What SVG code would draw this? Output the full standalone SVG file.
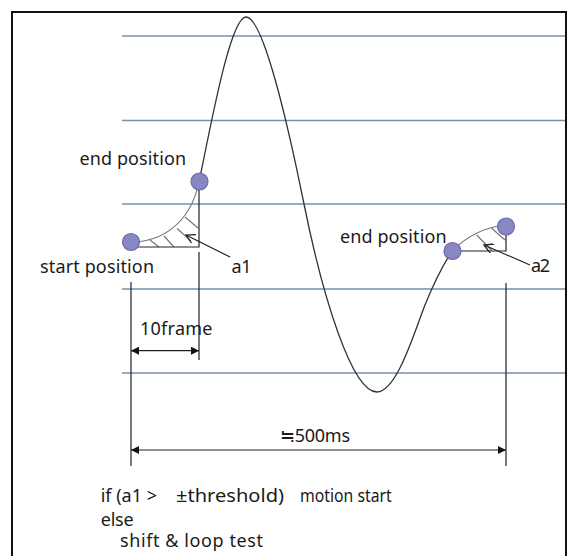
<svg xmlns="http://www.w3.org/2000/svg" width="568" height="556" viewBox="0 0 568 556">
<style>
.grid{stroke:#7590ad;stroke-width:1.3}
.wave{fill:none;stroke:#333;stroke-width:1.3}
.thin{fill:none;stroke:#777;stroke-width:1.2}
.line{fill:none;stroke:#222;stroke-width:1.2}
.pt{fill:#8787c3;stroke:#6c6cab;stroke-width:1.2}
text{font-family:"Noto Sans","Liberation Sans",sans-serif;font-size:18px;fill:#1a1a1a}
</style>
<defs>
<marker id="fa" viewBox="0 0 10 10" refX="10" refY="5" markerWidth="10" markerHeight="8" markerUnits="userSpaceOnUse" orient="auto-start-reverse"><path d="M0,0 L10,5 L0,10 Z" fill="#111"/></marker>
<marker id="oa" viewBox="0 0 10 10" refX="9" refY="5" markerWidth="12" markerHeight="10" markerUnits="userSpaceOnUse" orient="auto"><path d="M0,0 L9,5 L0,10" fill="none" stroke="#222" stroke-width="1.3"/></marker>
</defs>
<rect width="568" height="556" fill="#fff"/>
<path d="M12,560 V12 H566 V560" fill="none" stroke="#111" stroke-width="2"/>
<g id="grid">
<line class="grid" x1="122" y1="36" x2="565" y2="36"/>
<line class="grid" x1="122" y1="120.5" x2="565" y2="120.5"/>
<line class="grid" x1="122" y1="204" x2="565" y2="204"/>
<line class="grid" x1="122" y1="289" x2="565" y2="289"/>
<line class="grid" x1="122" y1="373" x2="565" y2="373"/>
</g>
<g id="connectors">
<path class="wave" d="M199,182 C210,130 230,17 246,17 C262,17 285,110 304,204 C323,298 352,392 377,392 C397,392 415,330 425,305 C435,280 445,262 452,251"/>
<path class="thin" d="M131,242 C160,242 190,225 199,182"/>
<path class="thin" d="M452,251 Q475,228 506,225"/>
<path class="thin" d="M150,240 L159,247 M164,236 L174,247 M177,228.5 L191,241 M185,217 L198,228"/>
<path class="thin" d="M476.7,235 L491.7,250.5 M491.7,228.3 L505,240"/>
<path class="line" d="M138,247 H199 V182"/>
<path class="line" d="M452,251 H506 V227"/>
<path class="line" d="M131,282 V466 M199,252 V360 M506,283 V466"/>
<line class="line" x1="131" y1="350.7" x2="199" y2="350.7" marker-start="url(#fa)" marker-end="url(#fa)"/>
<line class="line" x1="131" y1="450" x2="506" y2="450" marker-start="url(#fa)" marker-end="url(#fa)"/>
<line class="line" x1="230" y1="257" x2="186" y2="235" marker-end="url(#oa)"/>
<line class="line" x1="530" y1="265" x2="484" y2="245" marker-end="url(#oa)"/>
</g>
<g id="start1"><circle class="pt" cx="131" cy="242" r="8.5"/></g>
<g id="end1"><circle class="pt" cx="199.5" cy="181.5" r="8.5"/></g>
<g id="start2"><circle class="pt" cx="452.5" cy="251" r="8.5"/></g>
<g id="end2"><circle class="pt" cx="506" cy="226.5" r="8.5"/></g>
<g id="labels">
<text x="79.5" y="165" textLength="106.5">end position</text>
<text x="40" y="273" textLength="114">start position</text>
<text x="231.5" y="273" textLength="20">a1</text>
<text x="140" y="335" textLength="72.5">10frame</text>
<text x="340" y="242.5" textLength="106.5">end position</text>
<text x="531" y="272" textLength="19">a2</text>
<text x="280" y="442" textLength="70">≒500ms</text>
<text x="100.7" y="502">if (a1 &gt;</text>
<text x="176" y="502" textLength="108" lengthAdjust="spacingAndGlyphs">±threshold)</text>
<text x="300" y="502" textLength="91.7" lengthAdjust="spacingAndGlyphs">motion start</text>
<text x="100.7" y="526" textLength="33">else</text>
<text x="120" y="547" textLength="143">shift &amp; loop test</text>
</g>
</svg>
